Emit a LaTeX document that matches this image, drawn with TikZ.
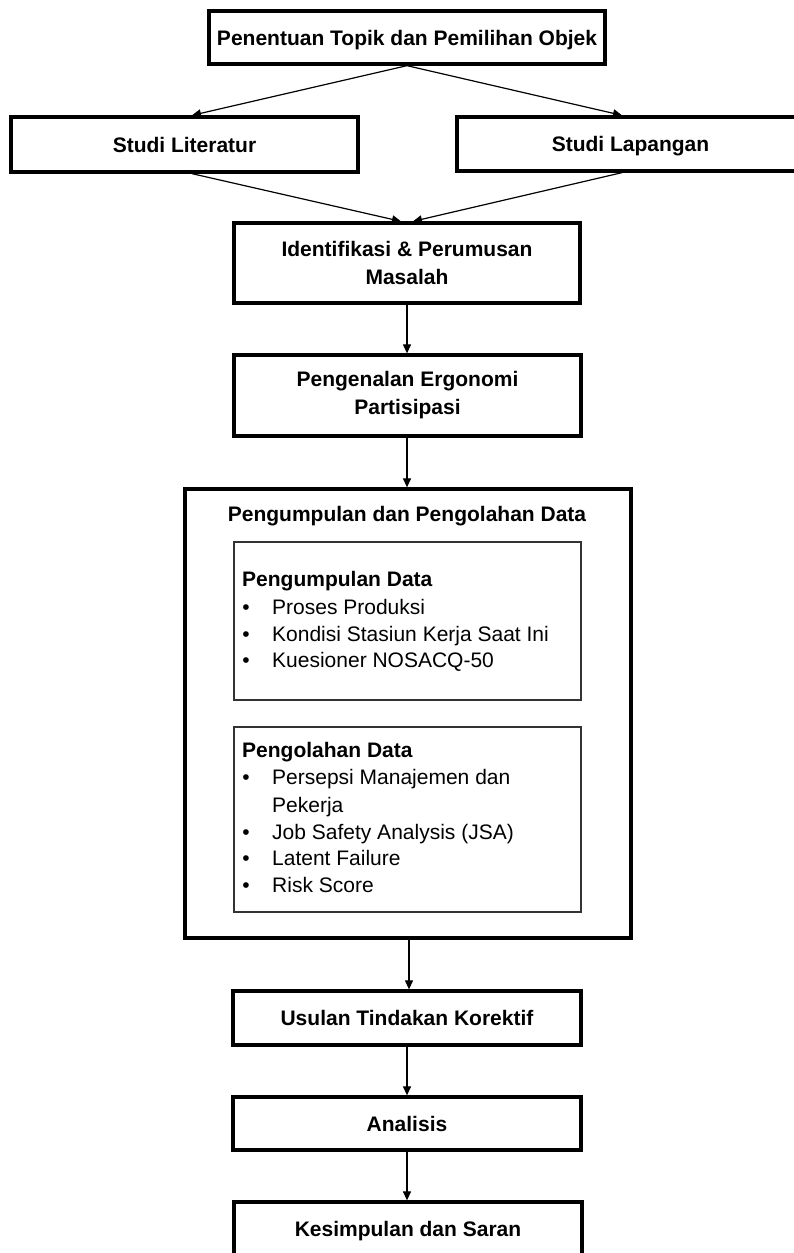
\documentclass[tikz,border=0pt]{standalone}
\usepackage{fontspec}
\setmainfont{Liberation Sans}
\usetikzlibrary{arrows.meta,calc}
\begin{document}
\begin{tikzpicture}[x=1pt,y=-1pt,
  box/.style={draw=black,line width=3.3pt,fill=white,inner sep=0pt,
    font=\bfseries\fontsize{21}{28}\selectfont,align=center},
  oneline/.style={text height=15pt,text depth=0pt},
  inbox/.style={draw=black!80,line width=2pt,inner sep=0pt},
  arr/.style={line width=1.2pt,-{Triangle[length=9pt,width=8pt]}},
  itemtxt/.style={anchor=base west,inner sep=0pt,font=\fontsize{21}{27}\selectfont},
  headtxt/.style={anchor=base west,inner sep=0pt,font=\bfseries\fontsize{21}{27}\selectfont},
  bul/.style={anchor=base,inner sep=0pt,font=\fontsize{21}{27}\selectfont}]
\useasboundingbox (0,0) rectangle (793,1253);
\fill[white] (0,0) rectangle (793,1253);

% main boxes
\node[box,oneline,minimum width=396pt,minimum height=53pt] (top) at (407,37.5) {Penentuan Topik dan Pemilihan Objek};
\node[box,oneline,minimum width=347pt,minimum height=55pt] (lit) at (184.5,144.5) {Studi Literatur};
\node[box,oneline,minimum width=347pt,minimum height=54pt] (lap) at (630.5,144) {Studi Lapangan};
\node[box,minimum width=346pt,minimum height=80pt] (iden) at (407,263) {Identifikasi \& Perumusan\\Masalah};
\node[box,minimum width=347pt,minimum height=81pt] (peng) at (407.5,395.5) {Pengenalan Ergonomi\\Partisipasi};
\node[box,minimum width=446pt,minimum height=449pt] (big) at (408,713.5) {};
\node[box,oneline,draw=none,fill=none] (bigtitle) at (407,514) {Pengumpulan dan Pengolahan Data};
\node[inbox,minimum width=347pt,minimum height=158pt] (in1) at (407.5,621) {};
\node[inbox,minimum width=347pt,minimum height=185pt] (in2) at (407.5,819.5) {};
\node[box,oneline,minimum width=348pt,minimum height=54pt] (usul) at (407,1018) {Usulan Tindakan Korektif};
\node[box,oneline,minimum width=348pt,minimum height=53pt] (anal) at (407,1123.5) {Analisis};
\node[box,oneline,minimum width=348pt,minimum height=54pt] (kes) at (408,1229) {Kesimpulan dan Saran};

% inner box 1
\node[headtxt] (h1) at (242,586.5) {Pengumpulan Data};
\node[bul] (b11) at (246,614.5) {•};
\node[itemtxt] (i11) at (272,614.5) {Proses Produksi};
\node[bul] (b12) at (246,641) {•};
\node[itemtxt] (i12) at (272,641) {Kondisi Stasiun Kerja Saat Ini};
\node[bul] (b13) at (246,667.5) {•};
\node[itemtxt] (i13) at (272,667.5) {Kuesioner NOSACQ-50};

% inner box 2
\node[headtxt] (h2) at (242,757.5) {Pengolahan Data};
\node[bul] (b21) at (246,784.5) {•};
\node[itemtxt] (i21) at (272,784.5) {Persepsi Manajemen dan};
\node[itemtxt] (i21b) at (272,812) {Pekerja};
\node[bul] (b22) at (246,839) {•};
\node[itemtxt] (i22) at (272,839) {Job Safety Analysis (JSA)};
\node[bul] (b23) at (246,865.5) {•};
\node[itemtxt] (i23) at (272,865.5) {Latent Failure};
\node[bul] (b24) at (246,892.5) {•};
\node[itemtxt] (i24) at (272,892.5) {Risk Score};

% connectors
\coordinate (bs) at ([xshift=1pt]big.south);
\draw[arr] (top.south) -- ([xshift=7.5pt]lit.north);
\draw[arr] (top.south) -- ([xshift=-8.5pt]lap.north);
\draw[arr] ([xshift=7.5pt]lit.south) -- ([xshift=-6pt]iden.north);
\draw[arr] ([xshift=-8.5pt]lap.south) -- ([xshift=6pt]iden.north);
\draw[arr] (iden.south) -- (peng.north -| iden.south);
\draw[arr] (peng.south -| iden.south) -- (big.north -| iden.south);
\draw[arr] (bs) -- (usul.north -| bs);
\draw[arr] (usul.south) -- (anal.north);
\draw[arr] (anal.south) -- (kes.north -| anal.south);
\end{tikzpicture}
\end{document}
